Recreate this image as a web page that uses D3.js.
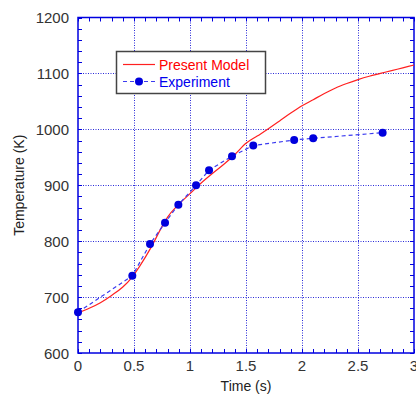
<!DOCTYPE html>
<html>
<head>
<meta charset="utf-8">
<script src="https://cdn.jsdelivr.net/npm/d3@7"></script>
<style>
  body { margin: 0; background: #fff; }
  svg { display: block; font-family: "Liberation Sans", Arial, sans-serif; }
</style>
</head>
<body>
<svg id="chart" width="416" height="396"></svg>
<script>
// model curve (time in s, temperature in K)
const modelTime = [0, 0.1, 0.2, 0.3, 0.4, 0.48, 0.55, 0.65, 0.75, 0.8, 0.9, 1.0, 1.1, 1.2, 1.3, 1.4, 1.5, 1.6, 1.7, 1.8, 1.9, 2.0, 2.1, 2.2, 2.3, 2.4, 2.5, 2.6, 2.7, 2.8, 2.9, 3.0];
const modelTemp = [672, 680, 690, 703, 718, 735, 755, 788, 826, 843, 866, 885, 904, 921, 937, 955, 975, 988, 1001, 1015, 1029, 1042, 1053, 1064, 1074, 1082, 1089, 1095, 1100, 1105, 1110, 1115];
// experiment points
const expTime = [0, 0.485, 0.643, 0.777, 0.896, 1.054, 1.17, 1.375, 1.565, 1.93, 2.1, 2.72];
const expTemp = [673, 738, 795, 833, 865, 900, 927, 952, 971, 981, 984, 994];

const xTicks = [0, 0.5, 1, 1.5, 2, 2.5, 3];
const yTicks = [600, 700, 800, 900, 1000, 1100, 1200];
const xTickLabels = ["0", "0.5", "1", "1.5", "2", "2.5", "3"];

const svg = d3.select("#chart");
const pL = 78, pR = 414, pT = 17.5, pB = 353;

const x = d3.scaleLinear().domain([0, 3]).range([pL, pR]);
const y = d3.scaleLinear().domain([600, 1200]).range([pB, pT]);

const blue = "#0000e0";

// grid
const grid = svg.append("g").attr("stroke", "#2a2ad8").attr("stroke-width", 1).attr("stroke-dasharray", "1,1.5");
grid.selectAll(".gx").data(xTicks.slice(1, -1)).join("line")
  .attr("x1", d => Math.round(x(d)) + 0.5).attr("x2", d => Math.round(x(d)) + 0.5)
  .attr("y1", pT).attr("y2", pB);
grid.selectAll(".gy").data(yTicks.slice(1, -1)).join("line")
  .attr("y1", d => Math.round(y(d)) + 0.5).attr("y2", d => Math.round(y(d)) + 0.5)
  .attr("x1", pL).attr("x2", pR);

// minor ticks inside on all four sides
const minorX = d3.range(0, 3.0001, 0.1);
const minorY = d3.range(600, 1200.001, 20);
const tk = svg.append("g").attr("stroke", blue).attr("stroke-width", 1);
tk.selectAll(".tb").data(minorX).join("line")
  .attr("x1", d => Math.round(x(d)) + 0.5).attr("x2", d => Math.round(x(d)) + 0.5)
  .attr("y1", pB).attr("y2", pB - 4);
tk.selectAll(".tt").data(minorX).join("line")
  .attr("x1", d => Math.round(x(d)) + 0.5).attr("x2", d => Math.round(x(d)) + 0.5)
  .attr("y1", pT).attr("y2", pT + 4);
tk.selectAll(".tl").data(minorY).join("line")
  .attr("y1", d => Math.round(y(d)) + 0.5).attr("y2", d => Math.round(y(d)) + 0.5)
  .attr("x1", pL).attr("x2", pL + 4);
tk.selectAll(".tr").data(minorY).join("line")
  .attr("y1", d => Math.round(y(d)) + 0.5).attr("y2", d => Math.round(y(d)) + 0.5)
  .attr("x1", pR).attr("x2", pR - 4);

// frame
svg.append("rect").attr("x", pL).attr("y", pT).attr("width", pR - pL).attr("height", pB - pT)
  .attr("fill", "none").attr("stroke", blue).attr("stroke-width", 1.5);

// tick labels
svg.append("g").selectAll("text").data(xTicks).join("text")
  .attr("x", d => x(d)).attr("y", pB + 18)
  .attr("text-anchor", "middle").attr("font-size", 15).attr("fill", "#333")
  .text((d, i) => xTickLabels[i]);
svg.append("g").selectAll("text").data(yTicks).join("text")
  .attr("x", pL - 9).attr("y", d => y(d) + 5.5)
  .attr("text-anchor", "end").attr("font-size", 15).attr("fill", "#333")
  .text(d => d);

// axis titles
svg.append("text").attr("x", (pL + pR) / 2).attr("y", 391)
  .attr("text-anchor", "middle").attr("font-size", 14).attr("fill", "#222").text("Time (s)");
svg.append("text").attr("transform", `translate(24,${(pT + pB) / 2}) rotate(-90)`)
  .attr("text-anchor", "middle").attr("font-size", 14).attr("fill", "#222").text("Temperature (K)");

// model line
const modelData = modelTime.map((t, i) => [t, modelTemp[i]]);
const line = d3.line().x(d => x(d[0])).y(d => y(d[1])).curve(d3.curveMonotoneX);
svg.append("path").datum(modelData).attr("d", line)
  .attr("fill", "none").attr("stroke", "#ff2020").attr("stroke-width", 1.2);

// experiment
const expData = expTime.map((t, i) => [t, expTemp[i]]);
svg.append("path").datum(expData).attr("d", d3.line().x(d => x(d[0])).y(d => y(d[1])))
  .attr("fill", "none").attr("stroke", "#3b3bf0").attr("stroke-width", 1.2).attr("stroke-dasharray", "4,3");
svg.append("g").selectAll("circle").data(expData).join("circle")
  .attr("cx", d => x(d[0])).attr("cy", d => y(d[1])).attr("r", 4).attr("fill", "#0000dd");

// legend
const lg = svg.append("g");
lg.append("rect").attr("x", 116.5).attr("y", 51.5).attr("width", 149).attr("height", 42)
  .attr("fill", "#fff").attr("stroke", "#444").attr("stroke-width", 1.5);
lg.append("line").attr("x1", 123).attr("x2", 155).attr("y1", 64.5).attr("y2", 64.5)
  .attr("stroke", "#ff2020").attr("stroke-width", 1.2);
lg.append("text").attr("x", 159).attr("y", 69.5).attr("font-size", 14).attr("fill", "#ff0000").text("Present Model");
lg.append("line").attr("x1", 123).attr("x2", 155).attr("y1", 81.5).attr("y2", 81.5)
  .attr("stroke", "#3b3bf0").attr("stroke-width", 1.2).attr("stroke-dasharray", "4,3");
lg.append("circle").attr("cx", 139).attr("cy", 81.5).attr("r", 4).attr("fill", "#0000dd");
lg.append("text").attr("x", 159).attr("y", 86.5).attr("font-size", 14).attr("fill", "#0000ee").text("Experiment");
</script>
</body>
</html>
